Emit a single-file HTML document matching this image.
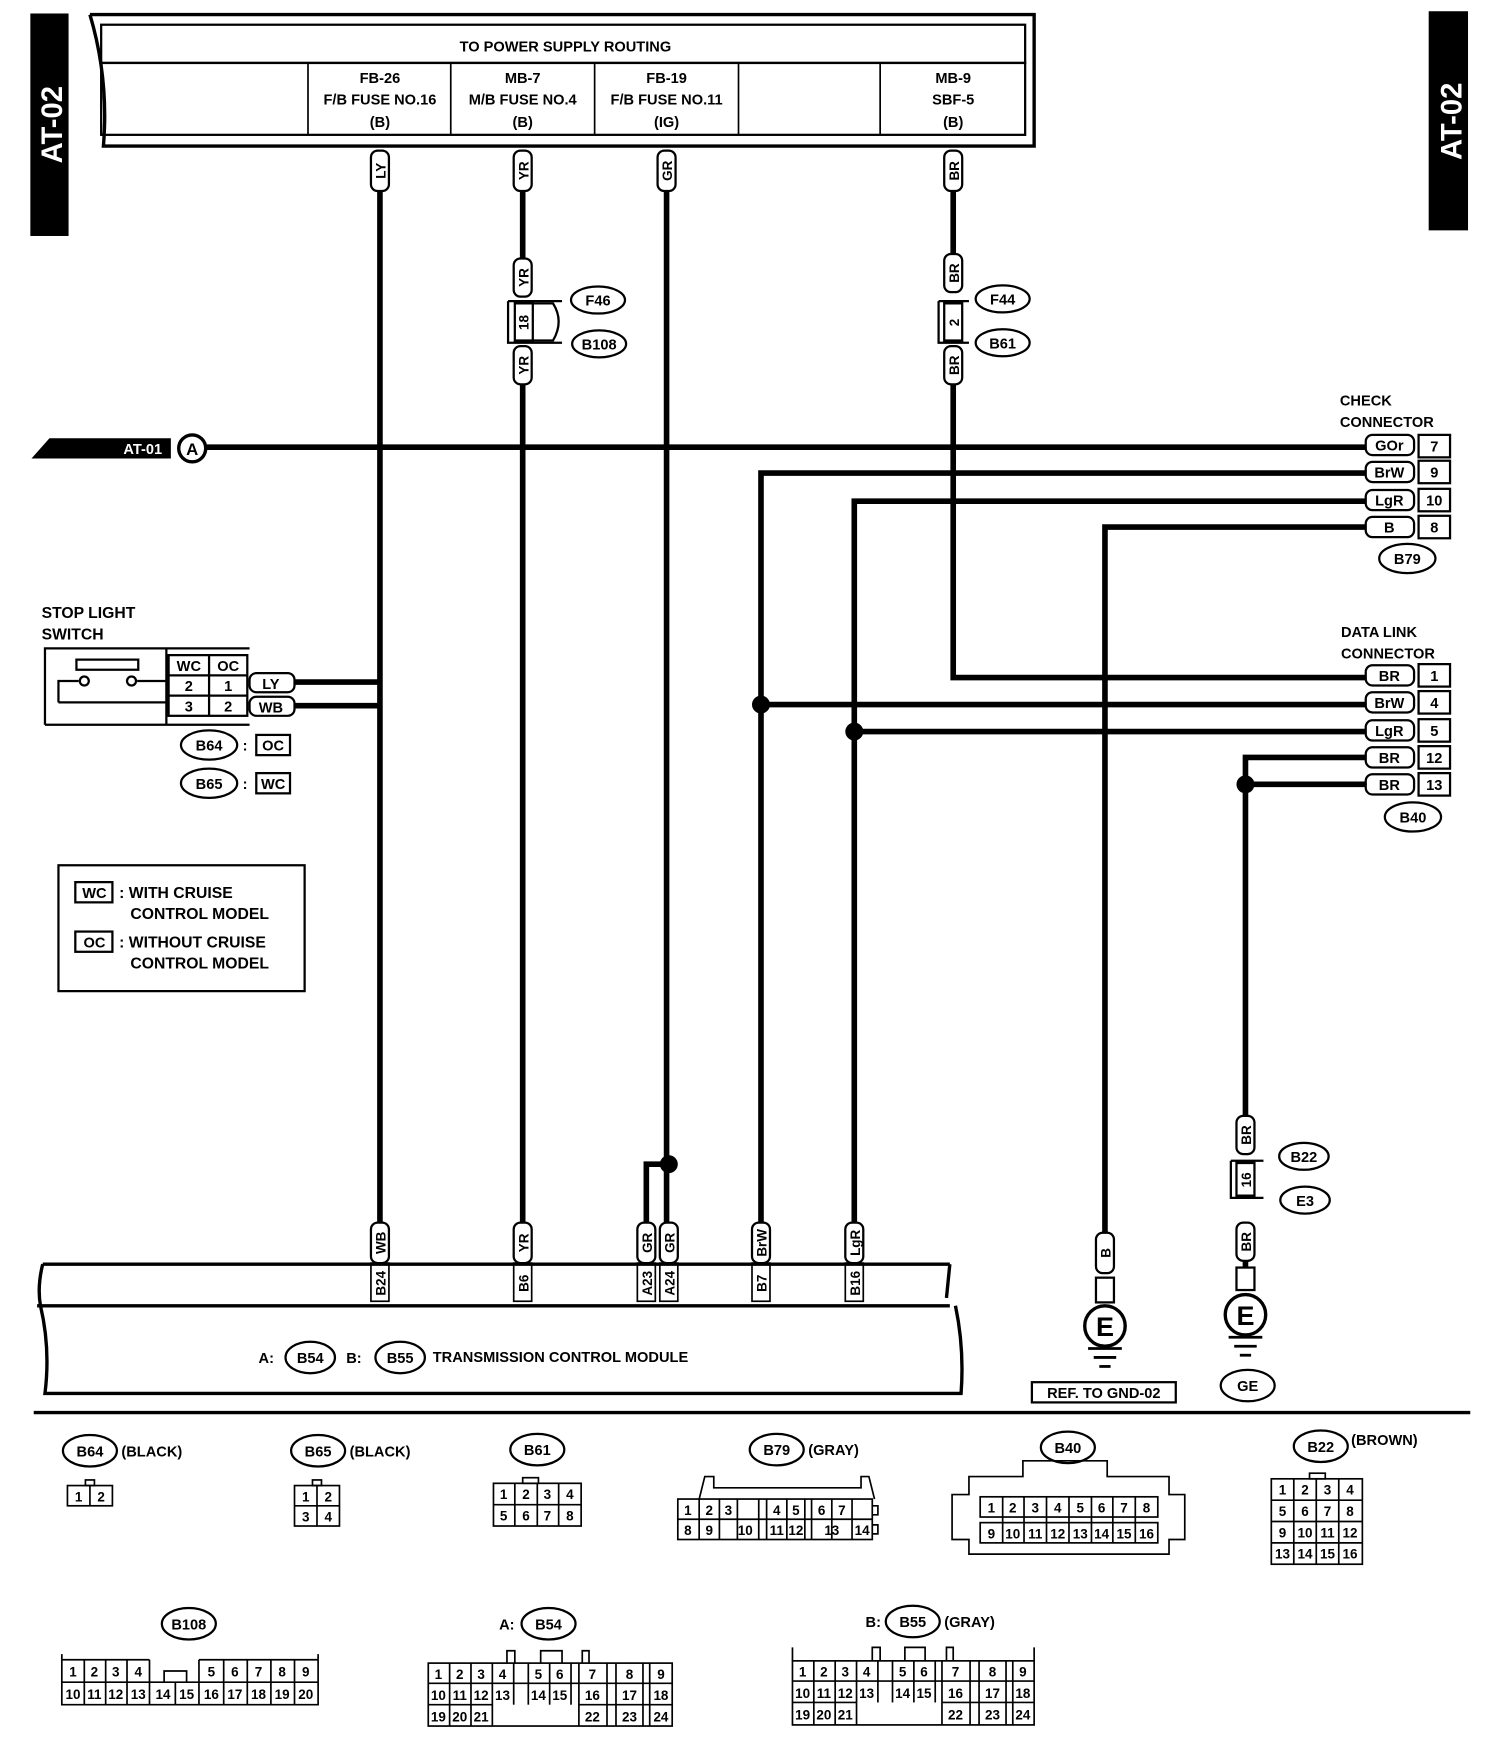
<!DOCTYPE html>
<html><head><meta charset="utf-8"><style>
html,body{margin:0;padding:0;background:#fff}
svg{display:block}
text{font-family:"Liberation Sans",sans-serif;font-weight:bold;fill:#000}
</style></head><body>
<svg width="1504" height="1762" viewBox="0 0 1338 1568" preserveAspectRatio="none" xmlns="http://www.w3.org/2000/svg">
<rect width="1338" height="1568" fill="#fff"/>
<!-- side bars -->
<rect x="27" y="12" width="34" height="198" fill="#000"/>
<text x="0" y="0" transform="translate(55,111) rotate(-90)" text-anchor="middle" font-size="26" style="fill:#fff">AT-02</text>
<rect x="1271" y="10" width="35" height="195" fill="#000"/>
<text transform="translate(1300,108) rotate(-90)" text-anchor="middle" font-size="26" style="fill:#fff">AT-02</text>

<!-- top box -->
<g fill="none" stroke="#000">
<path d="M80,13 H920 V130 H92 Q97,70 80,13" stroke-width="3"/>
<rect x="90" y="22" width="822" height="34" stroke-width="2"/>
<rect x="90" y="56" width="822" height="64" stroke-width="2"/>
<line x1="274" y1="56" x2="274" y2="120" stroke-width="1.5"/>
<line x1="401" y1="56" x2="401" y2="120" stroke-width="1.5"/>
<line x1="529" y1="56" x2="529" y2="120" stroke-width="1.5"/>
<line x1="657" y1="56" x2="657" y2="120" stroke-width="1.5"/>
<line x1="783" y1="56" x2="783" y2="120" stroke-width="1.5"/>
</g>
<text x="503" y="46" text-anchor="middle" font-size="13">TO POWER SUPPLY ROUTING</text>
<g font-size="13" text-anchor="middle">
<text x="338" y="74">FB-26</text><text x="338" y="93">F/B FUSE NO.16</text><text x="338" y="113">(B)</text>
<text x="465" y="74">MB-7</text><text x="465" y="93">M/B FUSE NO.4</text><text x="465" y="113">(B)</text>
<text x="593" y="74">FB-19</text><text x="593" y="93">F/B FUSE NO.11</text><text x="593" y="113">(IG)</text>
<text x="848" y="74">MB-9</text><text x="848" y="93">SBF-5</text><text x="848" y="113">(B)</text>
</g>

<!-- wires -->
<g stroke="#000" stroke-width="5" fill="none">
<line x1="338" y1="170" x2="338" y2="1090"/>
<line x1="262" y1="607" x2="338" y2="607"/>
<line x1="262" y1="628" x2="338" y2="628"/>
<line x1="465" y1="170" x2="465" y2="232"/>
<line x1="465" y1="342" x2="465" y2="1090"/>
<line x1="593" y1="170" x2="593" y2="1090"/>
<path d="M595,1036 H575 V1090"/>
<line x1="848" y1="170" x2="848" y2="228"/>
<path d="M848,342 V603 H1215"/>
<line x1="180" y1="398" x2="1215" y2="398"/>
<path d="M1215,421 H677 V1090"/>
<line x1="677" y1="627" x2="1215" y2="627"/>
<path d="M1215,446 H760 V1090"/>
<line x1="760" y1="651" x2="1215" y2="651"/>
<path d="M1215,469 H983 V1098"/>
<path d="M1215,674 H1108 V995"/>
<line x1="1108" y1="698" x2="1215" y2="698"/>
<line x1="1108" y1="1122" x2="1108" y2="1128"/>
</g>
<g fill="#000">
<circle cx="595" cy="1036" r="8"/><circle cx="677" cy="627" r="8"/><circle cx="760" cy="651" r="8"/><circle cx="1108" cy="698" r="8"/>
</g>

<!-- vertical wire tags -->
<g fill="#fff" stroke="#000" stroke-width="2">
<rect x="330" y="134" width="16" height="36" rx="6"/>
<rect x="457" y="134" width="16" height="36" rx="6"/>
<rect x="585" y="134" width="16" height="36" rx="6"/>
<rect x="840" y="134" width="16" height="36" rx="6"/>
<rect x="457" y="230" width="16" height="34" rx="6"/>
<rect x="457" y="308" width="16" height="34" rx="6"/>
<rect x="840" y="226" width="16" height="34" rx="6"/>
<rect x="840" y="308" width="16" height="34" rx="6"/>
<rect x="330" y="1088" width="16" height="36" rx="6"/>
<rect x="457" y="1088" width="16" height="36" rx="6"/>
<rect x="567" y="1088" width="16" height="36" rx="6"/>
<rect x="587" y="1088" width="16" height="36" rx="6"/>
<rect x="669" y="1088" width="16" height="36" rx="6"/>
<rect x="752" y="1088" width="16" height="36" rx="6"/>
<rect x="975" y="1097" width="16" height="36" rx="6"/>
<rect x="1100" y="993" width="16" height="34" rx="6"/>
<rect x="1100" y="1088" width="16" height="34" rx="6"/>
<rect x="975" y="1137" width="16" height="22"/>
<rect x="1100" y="1128" width="16" height="20"/>
</g>
<g font-size="12" text-anchor="middle">
<text transform="translate(343,152) rotate(-90)">LY</text>
<text transform="translate(470,152) rotate(-90)">YR</text>
<text transform="translate(598,152) rotate(-90)">GR</text>
<text transform="translate(853,152) rotate(-90)">BR</text>
<text transform="translate(470,247) rotate(-90)">YR</text>
<text transform="translate(470,325) rotate(-90)">YR</text>
<text transform="translate(853,243) rotate(-90)">BR</text>
<text transform="translate(853,325) rotate(-90)">BR</text>
<text transform="translate(343,1106) rotate(-90)">WB</text>
<text transform="translate(470,1106) rotate(-90)">YR</text>
<text transform="translate(580,1106) rotate(-90)">GR</text>
<text transform="translate(600,1106) rotate(-90)">GR</text>
<text transform="translate(682,1106) rotate(-90)">BrW</text>
<text transform="translate(765,1106) rotate(-90)">LgR</text>
<text transform="translate(988,1115) rotate(-90)">B</text>
<text transform="translate(1113,1010) rotate(-90)">BR</text>
<text transform="translate(1113,1105) rotate(-90)">BR</text>
</g>

<!-- inline connectors -->
<g fill="none" stroke="#000" stroke-width="2">
<path d="M452,268 H500 M452,268 V305 H500 M458,270 V303 H474 V270 Z"/>
<path d="M474,270 H492 Q502,286 492,303 H474"/>
<path d="M835,268 H862 M835,268 V305 H862 M840,270 V303 H856 V270 Z"/>
<path d="M1095,1033 V1066 H1124 M1095,1033 H1124 M1100,1035 V1064 H1116 V1035 Z"/>
</g>
<g font-size="12" text-anchor="middle">
<text transform="translate(470,287) rotate(-90)">18</text>
<text transform="translate(853,287) rotate(-90)">2</text>
<text transform="translate(1113,1050) rotate(-90)">16</text>
</g>
<g fill="#fff" stroke="#000" stroke-width="2">
<ellipse cx="532" cy="267" rx="24" ry="12"/>
<ellipse cx="533" cy="306" rx="24" ry="12"/>
<ellipse cx="892" cy="266" rx="24" ry="12"/>
<ellipse cx="892" cy="305" rx="24" ry="12"/>
<ellipse cx="1160" cy="1029" rx="22" ry="12"/>
<ellipse cx="1161" cy="1068" rx="22" ry="12"/>
</g>
<g font-size="13" text-anchor="middle">
<text x="532" y="272">F46</text><text x="533" y="311">B108</text>
<text x="892" y="271">F44</text><text x="892" y="310">B61</text>
<text x="1160" y="1034">B22</text><text x="1161" y="1073">E3</text>
</g>

<!-- AT-01 arrow -->
<path d="M28,408 L44,390 H152 V408 Z" fill="#000"/>
<text x="127" y="404" text-anchor="middle" font-size="13" style="fill:#fff">AT-01</text>
<circle cx="171" cy="399" r="12" fill="#fff" stroke="#000" stroke-width="3"/>
<text x="171" y="405" text-anchor="middle" font-size="15">A</text>

<!-- check connector -->
<text x="1192" y="361" font-size="13">CHECK</text>
<text x="1192" y="380" font-size="13">CONNECTOR</text>
<g fill="#fff" stroke="#000" stroke-width="2">
<rect x="1215" y="387" width="43" height="18" rx="6"/><rect x="1262" y="387" width="28" height="20"/>
<rect x="1215" y="411" width="43" height="18" rx="6"/><rect x="1262" y="410" width="28" height="20"/>
<rect x="1215" y="436" width="43" height="18" rx="6"/><rect x="1262" y="435" width="28" height="20"/>
<rect x="1215" y="460" width="43" height="18" rx="6"/><rect x="1262" y="459" width="28" height="20"/>
<ellipse cx="1252" cy="497" rx="25" ry="13"/>
<rect x="1215" y="592" width="43" height="18" rx="6"/><rect x="1262" y="591" width="28" height="20"/>
<rect x="1215" y="616" width="43" height="18" rx="6"/><rect x="1262" y="615" width="28" height="20"/>
<rect x="1215" y="641" width="43" height="18" rx="6"/><rect x="1262" y="640" width="28" height="20"/>
<rect x="1215" y="665" width="43" height="18" rx="6"/><rect x="1262" y="664" width="28" height="20"/>
<rect x="1215" y="689" width="43" height="18" rx="6"/><rect x="1262" y="688" width="28" height="20"/>
<ellipse cx="1257" cy="727" rx="25" ry="13"/>
</g>
<g font-size="13" text-anchor="middle">
<text x="1236" y="401">GOr</text><text x="1276" y="402">7</text>
<text x="1236" y="425">BrW</text><text x="1276" y="425">9</text>
<text x="1236" y="450">LgR</text><text x="1276" y="450">10</text>
<text x="1236" y="474">B</text><text x="1276" y="474">8</text>
<text x="1252" y="502">B79</text>
<text x="1236" y="606">BR</text><text x="1276" y="606">1</text>
<text x="1236" y="630">BrW</text><text x="1276" y="630">4</text>
<text x="1236" y="655">LgR</text><text x="1276" y="655">5</text>
<text x="1236" y="679">BR</text><text x="1276" y="679">12</text>
<text x="1236" y="703">BR</text><text x="1276" y="703">13</text>
<text x="1257" y="732">B40</text>
</g>
<text x="1193" y="567" font-size="13">DATA LINK</text>
<text x="1193" y="586" font-size="13">CONNECTOR</text>

<!-- stop light switch -->
<text x="37" y="550" font-size="14">STOP LIGHT</text>
<text x="37" y="569" font-size="14">SWITCH</text>
<g fill="none" stroke="#000" stroke-width="2">
<path d="M40,645 V577 H222 M40,645 H222 M148,577 V645"/>
<rect x="68" y="587" width="55" height="9"/>
<path d="M52,625 V606 H70 M122,606 H148 M52,625 H148"/>
<circle cx="75" cy="606" r="4" fill="#fff"/><circle cx="117" cy="606" r="4" fill="#fff"/>
<rect x="150" y="583" width="70" height="54"/>
<line x1="150" y1="601" x2="220" y2="601"/><line x1="150" y1="619" x2="220" y2="619"/>
<line x1="186" y1="583" x2="186" y2="637"/>
</g>
<g font-size="13" text-anchor="middle">
<text x="168" y="597">WC</text><text x="203" y="597">OC</text>
<text x="168" y="615">2</text><text x="203" y="615">1</text>
<text x="168" y="633">3</text><text x="203" y="633">2</text>
</g>
<g fill="#fff" stroke="#000" stroke-width="2">
<rect x="222" y="599" width="40" height="17" rx="6"/>
<rect x="222" y="620" width="40" height="17" rx="6"/>
<ellipse cx="186" cy="663" rx="25" ry="13"/>
<ellipse cx="186" cy="697" rx="25" ry="13"/>
<rect x="228" y="654" width="30" height="18"/>
<rect x="228" y="688" width="30" height="18"/>
<rect x="52" y="770" width="219" height="112"/>
<rect x="67" y="785" width="33" height="18"/>
<rect x="67" y="829" width="33" height="18"/>
</g>
<g font-size="13" text-anchor="middle">
<text x="241" y="613">LY</text><text x="241" y="634">WB</text>
<text x="186" y="668">B64</text><text x="186" y="702">B65</text>
<text x="218" y="668">:</text><text x="218" y="702">:</text>
<text x="243" y="668">OC</text><text x="243" y="702">WC</text>
<text x="84" y="799">WC</text><text x="84" y="843">OC</text>
</g>
<g font-size="14">
<text x="106" y="799">: WITH CRUISE</text>
<text x="116" y="818">CONTROL MODEL</text>
<text x="106" y="843">: WITHOUT CRUISE</text>
<text x="116" y="862">CONTROL MODEL</text>
</g>

<!-- TCM -->
<g fill="none" stroke="#000" stroke-width="3">
<path d="M38,1125 H845 M33,1162 H845 M38,1125 Q33,1145 36,1162 M845,1125 L842,1155"/>
<path d="M36,1162 Q45,1200 40,1240 H855 Q858,1200 850,1162"/>
</g>
<g fill="none" stroke="#000" stroke-width="1.5">
<rect x="330" y="1124" width="16" height="34"/>
<rect x="457" y="1124" width="16" height="34"/>
<rect x="567" y="1124" width="16" height="34"/>
<rect x="587" y="1124" width="16" height="34"/>
<rect x="669" y="1124" width="16" height="34"/>
<rect x="752" y="1124" width="16" height="34"/>
</g>
<g font-size="12" text-anchor="middle">
<text transform="translate(343,1142) rotate(-90)">B24</text>
<text transform="translate(470,1142) rotate(-90)">B6</text>
<text transform="translate(580,1142) rotate(-90)">A23</text>
<text transform="translate(600,1142) rotate(-90)">A24</text>
<text transform="translate(682,1142) rotate(-90)">B7</text>
<text transform="translate(765,1142) rotate(-90)">B16</text>
</g>
<text x="230" y="1213" font-size="13">A:</text>
<text x="308" y="1213" font-size="13">B:</text>
<text x="385" y="1212" font-size="13">TRANSMISSION CONTROL MODULE</text>
<g fill="#fff" stroke="#000" stroke-width="2">
<ellipse cx="276" cy="1208" rx="22" ry="14"/>
<ellipse cx="356" cy="1208" rx="22" ry="14"/>
</g>
<text x="276" y="1213" font-size="13" text-anchor="middle">B54</text>
<text x="356" y="1213" font-size="13" text-anchor="middle">B55</text>

<!-- grounds -->
<g fill="#fff" stroke="#000" stroke-width="3">
<circle cx="983" cy="1180" r="18"/>
<circle cx="1108" cy="1170" r="18"/>
</g>
<text x="983" y="1189" font-size="24" text-anchor="middle">E</text>
<text x="1108" y="1179" font-size="24" text-anchor="middle">E</text>
<g stroke="#000" stroke-width="2.5">
<line x1="968" y1="1200" x2="998" y2="1200"/><line x1="973" y1="1208" x2="993" y2="1208"/><line x1="978" y1="1216" x2="988" y2="1216"/>
<line x1="1093" y1="1190" x2="1123" y2="1190"/><line x1="1098" y1="1198" x2="1118" y2="1198"/><line x1="1103" y1="1206" x2="1113" y2="1206"/>
</g>
<rect x="918" y="1230" width="128" height="18" fill="#fff" stroke="#000" stroke-width="2"/>
<text x="982" y="1244" font-size="13" text-anchor="middle">REF. TO GND-02</text>
<ellipse cx="1110" cy="1233" rx="24" ry="14" fill="#fff" stroke="#000" stroke-width="2"/>
<text x="1110" y="1238" font-size="13" text-anchor="middle">GE</text>

<line x1="30" y1="1257" x2="1308" y2="1257" stroke="#000" stroke-width="3"/>

<!-- bottom connector ovals -->
<g fill="#fff" stroke="#000" stroke-width="2">
<ellipse cx="80" cy="1291" rx="24" ry="14"/>
<ellipse cx="283" cy="1291" rx="24" ry="14"/>
<ellipse cx="478" cy="1290" rx="24" ry="14"/>
<ellipse cx="691" cy="1290" rx="24" ry="14"/>
<ellipse cx="950" cy="1288" rx="24" ry="14"/>
<ellipse cx="1175" cy="1287" rx="24" ry="14"/>
<ellipse cx="168" cy="1445" rx="24" ry="14"/>
<ellipse cx="488" cy="1445" rx="24" ry="14"/>
<ellipse cx="812" cy="1443" rx="24" ry="14"/>
</g>
<g font-size="13" text-anchor="middle">
<text x="80" y="1296">B64</text><text x="283" y="1296">B65</text><text x="478" y="1295">B61</text>
<text x="691" y="1295">B79</text><text x="950" y="1293">B40</text><text x="1175" y="1292">B22</text>
<text x="168" y="1450">B108</text><text x="488" y="1450">B54</text><text x="812" y="1448">B55</text>
</g>
<g font-size="13">
<text x="108" y="1296">(BLACK)</text><text x="311" y="1296">(BLACK)</text>
<text x="719" y="1295">(GRAY)</text><text x="1202" y="1286">(BROWN)</text>
<text x="444" y="1450">A:</text><text x="770" y="1448">B:</text><text x="840" y="1448">(GRAY)</text>
</g>

<!-- grids -->
<g fill="none" stroke="#000" stroke-width="1.5">
<rect x="60" y="1322" width="40" height="18"/><line x1="80" y1="1322" x2="80" y2="1340"/><rect x="76" y="1317" width="8" height="5"/>
<rect x="262" y="1322" width="40" height="36"/><line x1="282" y1="1322" x2="282" y2="1358"/><line x1="262" y1="1340" x2="302" y2="1340"/><rect x="278" y="1317" width="8" height="5"/>
<rect x="439" y="1320" width="78" height="38"/><line x1="439" y1="1339" x2="517" y2="1339"/>
<line x1="458" y1="1320" x2="458" y2="1358"/><line x1="478" y1="1320" x2="478" y2="1358"/><line x1="497" y1="1320" x2="497" y2="1358"/><rect x="465" y="1315" width="14" height="5"/>
<path d="M622,1334 L627,1314 H635 V1324 H766 V1314 H773 L778,1334"/>
<rect x="603" y="1334" width="173" height="36"/><line x1="603" y1="1352" x2="776" y2="1352"/>
<line x1="622" y1="1334" x2="622" y2="1370"/><line x1="640" y1="1334" x2="640" y2="1370"/><line x1="656" y1="1334" x2="656" y2="1370"/><line x1="675" y1="1334" x2="675" y2="1370"/><line x1="682" y1="1334" x2="682" y2="1370"/><line x1="700" y1="1334" x2="700" y2="1370"/><line x1="716" y1="1334" x2="716" y2="1370"/><line x1="722" y1="1334" x2="722" y2="1370"/><line x1="740" y1="1334" x2="740" y2="1370"/><line x1="758" y1="1334" x2="758" y2="1370"/>
<path d="M776,1340 H781 V1348 H776 M776,1357 H781 V1365 H776"/>
<path d="M862,1314 H910 V1300 H985 V1314 H1040 V1330 H1054 V1370 H1040 V1383 H862 V1370 H847 V1330 H862 Z"/>
<rect x="872" y="1332" width="158" height="18"/><rect x="872" y="1355" width="158" height="18"/>
<line x1="892" y1="1332" x2="892" y2="1373"/><line x1="911" y1="1332" x2="911" y2="1373"/><line x1="931" y1="1332" x2="931" y2="1373"/><line x1="951" y1="1332" x2="951" y2="1373"/><line x1="971" y1="1332" x2="971" y2="1373"/><line x1="990" y1="1332" x2="990" y2="1373"/><line x1="1010" y1="1332" x2="1010" y2="1373"/>
<rect x="1131" y="1316" width="81" height="76"/>
<line x1="1131" y1="1335" x2="1212" y2="1335"/><line x1="1131" y1="1354" x2="1212" y2="1354"/><line x1="1131" y1="1373" x2="1212" y2="1373"/>
<line x1="1151" y1="1316" x2="1151" y2="1392"/><line x1="1171" y1="1316" x2="1171" y2="1392"/><line x1="1191" y1="1316" x2="1191" y2="1392"/><rect x="1165" y="1311" width="14" height="5"/>
<path d="M55,1477 V1472 M283,1477 V1472"/>
<path d="M55,1477 H133 M177,1477 H283 M55,1477 V1517 H283 V1477"/>
<line x1="55" y1="1497" x2="283" y2="1497"/>
<path d="M133,1477 V1497 M146,1497 V1487 H166 V1497 M177,1477 V1497"/>
<line x1="75" y1="1477" x2="75" y2="1517"/><line x1="94" y1="1477" x2="94" y2="1517"/><line x1="113" y1="1477" x2="113" y2="1517"/><line x1="133" y1="1497" x2="133" y2="1517"/><line x1="156" y1="1497" x2="156" y2="1517"/><line x1="177" y1="1497" x2="177" y2="1517"/><line x1="199" y1="1477" x2="199" y2="1517"/><line x1="220" y1="1477" x2="220" y2="1517"/><line x1="241" y1="1477" x2="241" y2="1517"/><line x1="262" y1="1477" x2="262" y2="1517"/>
<rect x="381" y="1480" width="217" height="56"/><line x1="381" y1="1498" x2="598" y2="1498"/><line x1="381" y1="1517" x2="438" y2="1517"/><line x1="515" y1="1517" x2="598" y2="1517"/>
<line x1="400" y1="1480" x2="400" y2="1536"/><line x1="419" y1="1480" x2="419" y2="1536"/><line x1="438" y1="1480" x2="438" y2="1536"/><line x1="457" y1="1480" x2="457" y2="1517"/><line x1="470" y1="1480" x2="470" y2="1517"/><line x1="489" y1="1480" x2="489" y2="1517"/><line x1="508" y1="1480" x2="508" y2="1517"/><line x1="515" y1="1480" x2="515" y2="1536"/><line x1="540" y1="1480" x2="540" y2="1536"/><line x1="548" y1="1480" x2="548" y2="1536"/><line x1="572" y1="1480" x2="572" y2="1536"/><line x1="578" y1="1480" x2="578" y2="1536"/>
<path d="M451,1480 V1469 H458 V1480 M481,1480 V1469 H500 V1480 M518,1480 V1469 H524 V1480"/>
<rect x="705" y="1478" width="215" height="57"/><line x1="705" y1="1496" x2="920" y2="1496"/><line x1="705" y1="1515" x2="762" y2="1515"/><line x1="838" y1="1515" x2="920" y2="1515"/>
<line x1="724" y1="1478" x2="724" y2="1535"/><line x1="743" y1="1478" x2="743" y2="1535"/><line x1="762" y1="1478" x2="762" y2="1535"/><line x1="781" y1="1478" x2="781" y2="1515"/><line x1="794" y1="1478" x2="794" y2="1515"/><line x1="813" y1="1478" x2="813" y2="1515"/><line x1="832" y1="1478" x2="832" y2="1515"/><line x1="838" y1="1478" x2="838" y2="1535"/><line x1="863" y1="1478" x2="863" y2="1535"/><line x1="871" y1="1478" x2="871" y2="1535"/><line x1="895" y1="1478" x2="895" y2="1535"/><line x1="901" y1="1478" x2="901" y2="1535"/>
<path d="M705,1478 V1466 M920,1478 V1466 M776,1478 V1466 H783 V1478 M805,1478 V1466 H823 V1478 M842,1478 V1466 H848 V1478"/>
</g>
<g font-size="12" text-anchor="middle" style="font-weight:normal">
<text x="70" y="1336">1</text><text x="90" y="1336">2</text>
<text x="272" y="1336">1</text><text x="292" y="1336">2</text><text x="272" y="1354">3</text><text x="292" y="1354">4</text>
<text x="448" y="1334">1</text><text x="468" y="1334">2</text><text x="487" y="1334">3</text><text x="507" y="1334">4</text>
<text x="448" y="1353">5</text><text x="468" y="1353">6</text><text x="487" y="1353">7</text><text x="507" y="1353">8</text>
<text x="612" y="1348">1</text><text x="631" y="1348">2</text><text x="648" y="1348">3</text><text x="691" y="1348">4</text><text x="708" y="1348">5</text><text x="731" y="1348">6</text><text x="749" y="1348">7</text>
<text x="612" y="1366">8</text><text x="631" y="1366">9</text><text x="663" y="1366">10</text><text x="691" y="1366">11</text><text x="708" y="1366">12</text><text x="740" y="1366">13</text><text x="767" y="1366">14</text>
<text x="882" y="1346">1</text><text x="901" y="1346">2</text><text x="921" y="1346">3</text><text x="941" y="1346">4</text><text x="961" y="1346">5</text><text x="980" y="1346">6</text><text x="1000" y="1346">7</text><text x="1020" y="1346">8</text>
<text x="882" y="1369">9</text><text x="901" y="1369">10</text><text x="921" y="1369">11</text><text x="941" y="1369">12</text><text x="961" y="1369">13</text><text x="980" y="1369">14</text><text x="1000" y="1369">15</text><text x="1020" y="1369">16</text>
<text x="1141" y="1330">1</text><text x="1161" y="1330">2</text><text x="1181" y="1330">3</text><text x="1201" y="1330">4</text>
<text x="1141" y="1349">5</text><text x="1161" y="1349">6</text><text x="1181" y="1349">7</text><text x="1201" y="1349">8</text>
<text x="1141" y="1368">9</text><text x="1161" y="1368">10</text><text x="1181" y="1368">11</text><text x="1201" y="1368">12</text>
<text x="1141" y="1387">13</text><text x="1161" y="1387">14</text><text x="1181" y="1387">15</text><text x="1201" y="1387">16</text>
<text x="65" y="1492">1</text><text x="84" y="1492">2</text><text x="103" y="1492">3</text><text x="123" y="1492">4</text><text x="188" y="1492">5</text><text x="209" y="1492">6</text><text x="230" y="1492">7</text><text x="251" y="1492">8</text><text x="272" y="1492">9</text>
<text x="65" y="1512">10</text><text x="84" y="1512">11</text><text x="103" y="1512">12</text><text x="123" y="1512">13</text><text x="145" y="1512">14</text><text x="166" y="1512">15</text><text x="188" y="1512">16</text><text x="209" y="1512">17</text><text x="230" y="1512">18</text><text x="251" y="1512">19</text><text x="272" y="1512">20</text>
<text x="390" y="1494">1</text><text x="409" y="1494">2</text><text x="428" y="1494">3</text><text x="447" y="1494">4</text><text x="479" y="1494">5</text><text x="498" y="1494">6</text><text x="527" y="1494">7</text><text x="560" y="1494">8</text><text x="588" y="1494">9</text>
<text x="390" y="1513">10</text><text x="409" y="1513">11</text><text x="428" y="1513">12</text><text x="447" y="1513">13</text><text x="479" y="1513">14</text><text x="498" y="1513">15</text><text x="527" y="1513">16</text><text x="560" y="1513">17</text><text x="588" y="1513">18</text>
<text x="390" y="1532">19</text><text x="409" y="1532">20</text><text x="428" y="1532">21</text><text x="527" y="1532">22</text><text x="560" y="1532">23</text><text x="588" y="1532">24</text>
<text x="714" y="1492">1</text><text x="733" y="1492">2</text><text x="752" y="1492">3</text><text x="771" y="1492">4</text><text x="803" y="1492">5</text><text x="822" y="1492">6</text><text x="850" y="1492">7</text><text x="883" y="1492">8</text><text x="910" y="1492">9</text>
<text x="714" y="1511">10</text><text x="733" y="1511">11</text><text x="752" y="1511">12</text><text x="771" y="1511">13</text><text x="803" y="1511">14</text><text x="822" y="1511">15</text><text x="850" y="1511">16</text><text x="883" y="1511">17</text><text x="910" y="1511">18</text>
<text x="714" y="1530">19</text><text x="733" y="1530">20</text><text x="752" y="1530">21</text><text x="850" y="1530">22</text><text x="883" y="1530">23</text><text x="910" y="1530">24</text>
</g>
</svg>
</body></html>
